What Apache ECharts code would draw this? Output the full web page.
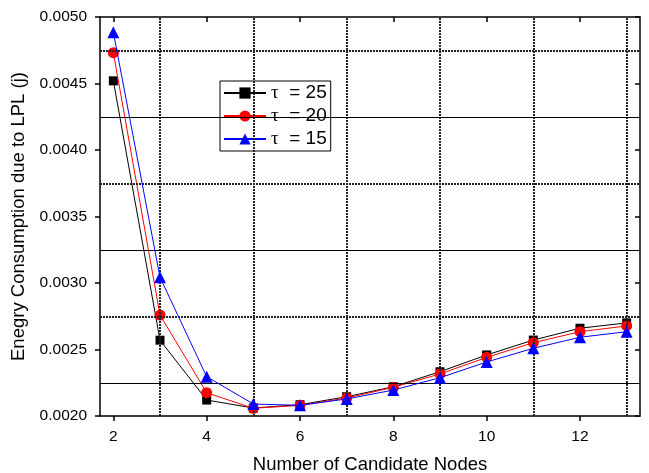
<!DOCTYPE html>
<html>
<head>
<meta charset="utf-8">
<script src="https://cdn.jsdelivr.net/npm/echarts@6/dist/echarts.min.js"></script>
<style>
  html, body { margin: 0; padding: 0; background: #fff; }
  #chart { width: 649px; height: 473px; }
</style>
</head>
<body>
<div id="chart"></div>
<script>
const nodes = [2, 3, 4, 5, 6, 7, 8, 9, 10, 11, 12, 13];
const tau25 = [0.00452, 0.00257, 0.00212, 0.00206, 0.002085, 0.002145, 0.00222, 0.002333, 0.002459, 0.002571, 0.00266, 0.0027];
const tau20 = [0.004732, 0.002759, 0.002175, 0.002058, 0.00208, 0.002135, 0.002216, 0.002316, 0.002441, 0.002551, 0.002634, 0.002677];
const tau15 = [0.004885, 0.003043, 0.002296, 0.00209, 0.00208, 0.002128, 0.002195, 0.002288, 0.002406, 0.002509, 0.002592, 0.002634];
const xTicks = [2, 4, 6, 8, 10, 12];
const gridX = [3, 5, 7, 9, 11, 13];
const gridYDotted = [0.00475, 0.00375, 0.00275];
const gridYSolid = [0.00425, 0.00325, 0.00225];

const chart = echarts.init(document.getElementById("chart"));

const pairs = (ys) => nodes.map((x, i) => [x, ys[i]]);
const dotted = { color: "#222", width: 2, type: [2, 1] };
const solid = { color: "#000", width: 1, type: "solid" };

const xRange = { min: 1.714, max: 13.286 };
const axisLine = { show: true, onZero: false, lineStyle: { color: "#000", width: 1.5 } };
const font = "Liberation Sans";

// horizontal grid line across the whole x range
const hLine = (v, style) => [
  { coord: [xRange.min, v], lineStyle: style },
  { coord: [xRange.max, v] }
];

const option = {
  animation: false,
  grid: { left: 100, right: 9, top: 17, bottom: 57, outerBoundsMode: "none", containLabel: false },
  legend: {
    orient: "vertical",
    left: 220,
    top: 81,
    padding: [2, 4, 2, 3],
    itemWidth: 42,
    itemHeight: 14,
    itemGap: 3,
    backgroundColor: "#fff",
    borderColor: "#000",
    borderWidth: 1,
    borderRadius: 0,
    data: ["25", "20", "15"],
    formatter: (name) => "{t|τ}  = " + name,
    textStyle: {
      fontFamily: font,
      fontSize: 19,
      lineHeight: 20,
      color: "#000",
      rich: { t: { fontFamily: "Liberation Serif", fontSize: 19, lineHeight: 20, color: "#000" } }
    }
  },
  xAxis: [
    {
      type: "value", ...xRange,
      name: "Number of Candidate Nodes",
      nameLocation: "middle",
      nameGap: 39,
      nameTextStyle: { fontFamily: font, fontSize: 18.5, color: "#000" },
      axisLine,
      axisTick: { show: true, inside: false, length: 5, customValues: xTicks, lineStyle: { color: "#000", width: 1.5 } },
      axisLabel: { customValues: xTicks, margin: 13, fontFamily: font, fontSize: 15.5, color: "#000" },
      splitLine: { show: false }
    },
    {
      type: "value", ...xRange, position: "top",
      axisLine,
      axisTick: { show: true, inside: true, length: 5, customValues: xTicks, lineStyle: { color: "#000", width: 1.5 } },
      axisLabel: { show: false },
      splitLine: { show: false }
    }
  ],
  yAxis: [
    {
      type: "value", min: 0.002, max: 0.005, interval: 0.0005,
      name: "Enegry Consumption due to LPL (j)",
      nameLocation: "middle",
      nameGap: 57,
      nameTextStyle: { fontFamily: font, fontSize: 18.5, color: "#000" },
      axisLine,
      axisTick: { show: true, inside: false, length: 5, lineStyle: { color: "#000", width: 1.5 } },
      axisLabel: { margin: 13, fontFamily: font, fontSize: 15.5, color: "#000", formatter: (v) => v.toFixed(4) },
      splitLine: { show: false }
    },
    {
      type: "value", min: 0.002, max: 0.005, interval: 0.0005, position: "right",
      axisLine,
      axisTick: { show: true, inside: true, length: 5, lineStyle: { color: "#000", width: 1.5 } },
      axisLabel: { show: false },
      splitLine: { show: false }
    }
  ],
  series: [
    {
      type: "line",
      name: "grid",
      data: pairs(tau25),
      z: 1,
      silent: true,
      symbol: "none",
      lineStyle: { opacity: 0 },
      markLine: {
        silent: true,
        symbol: "none",
        label: { show: false },
        animation: false,
        data: [
          ...gridX.map((v) => ({ xAxis: v, lineStyle: dotted })),
          ...gridYDotted.map((v) => hLine(v, dotted)),
          ...gridYSolid.map((v) => hLine(v, solid))
        ]
      }
    },
    {
      type: "line", name: "25", data: pairs(tau25), z: 3,
      symbol: "rect", symbolSize: 9,
      itemStyle: { color: "#000" }, lineStyle: { color: "#000", width: 1 }
    },
    {
      type: "line", name: "20", data: pairs(tau20), z: 4,
      symbol: "circle", symbolSize: 11,
      itemStyle: { color: "#ff0000" }, lineStyle: { color: "#ff0000", width: 1 }
    },
    {
      type: "line", name: "15", data: pairs(tau15), z: 5,
      symbol: "triangle", symbolSize: 12,
      itemStyle: { color: "#0000ff" }, lineStyle: { color: "#0000ff", width: 1 }
    }
  ]
};

chart.setOption(option);
window.addEventListener("resize", () => chart.resize());
</script>
</body>
</html>
